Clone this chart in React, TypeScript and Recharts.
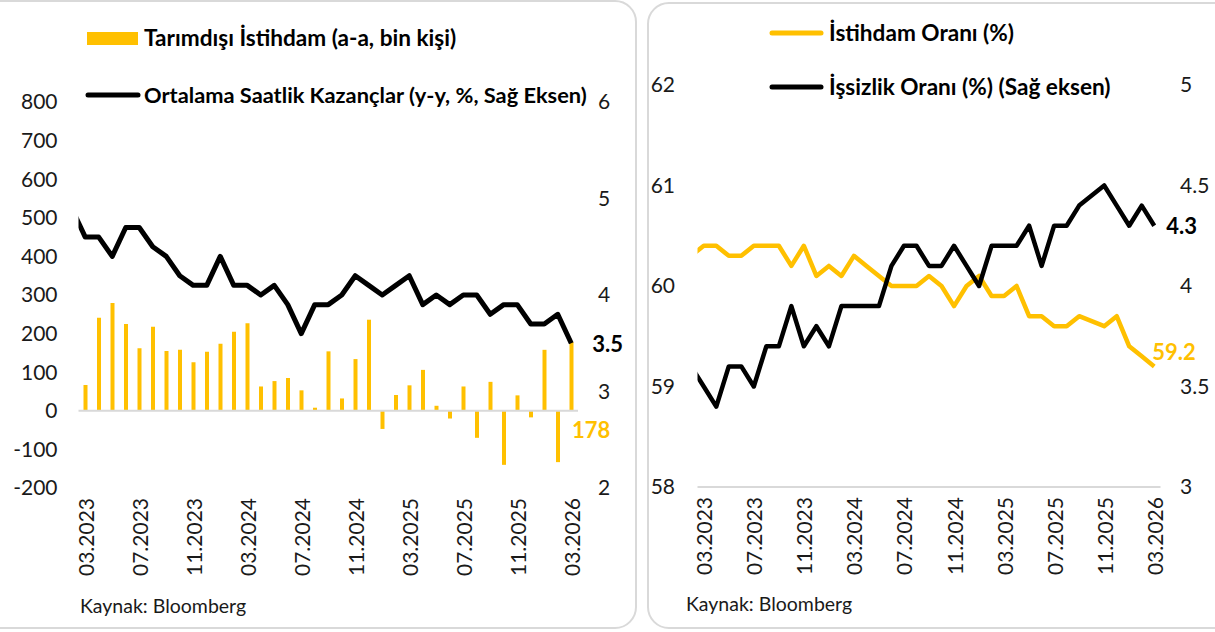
import React from "react";
import {
  ComposedChart,
  Bar,
  Line,
  XAxis,
  YAxis,
  ReferenceLine,
  LabelList,
} from "recharts";

// months incl. one clipped point before the visible range (02.2023)
const months = [
  "02.2023", "03.2023", "04.2023", "05.2023", "06.2023", "07.2023", "08.2023", "09.2023",
  "10.2023", "11.2023", "12.2023", "01.2024", "02.2024", "03.2024", "04.2024", "05.2024",
  "06.2024", "07.2024", "08.2024", "09.2024", "10.2024", "11.2024", "12.2024", "01.2025",
  "02.2025", "03.2025", "04.2025", "05.2025", "06.2025", "07.2025", "08.2025", "09.2025",
  "10.2025", "11.2025", "12.2025", "01.2026", "02.2026", "03.2026",
];

const tickMonths = ["03.2023", "07.2023", "11.2023", "03.2024", "07.2024", "11.2024", "03.2025", "07.2025", "11.2025", "03.2026"];

// Tarımdışı istihdam (a-a, bin kişi)
const payrolls = [
  null, 67, 241, 279, 225, 162, 218, 155, 158, 126, 153, 174, 205, 227, 63, 77, 85, 53, 8,
  154, 32, 134, 236, -47, 41, 66, 106, 13, -20, 63, -70, 75, -140, 40, -17, 158, -133, 178,
];

// Ortalama saatlik kazançlar (y-y, %)
const earnings = [
  4.9, 4.6, 4.6, 4.4, 4.7, 4.7, 4.5, 4.4, 4.2, 4.1, 4.1, 4.4, 4.1, 4.1, 4.0, 4.1, 3.9, 3.6, 3.9,
  3.9, 4.0, 4.2, 4.1, 4.0, 4.1, 4.2, 3.9, 4.0, 3.9, 4.0, 4.0, 3.8, 3.9, 3.9, 3.7, 3.7, 3.8, 3.5,
];

// İstihdam oranı (%)
const empRate = [
  60.3, 60.4, 60.4, 60.3, 60.3, 60.4, 60.4, 60.4, 60.2, 60.4, 60.1, 60.2, 60.1, 60.3, 60.2, 60.1,
  60.0, 60.0, 60.0, 60.1, 60.0, 59.8, 60.0, 60.1, 59.9, 59.9, 60.0, 59.7, 59.7, 59.6, 59.6, 59.7,
  null, 59.6, 59.7, 59.4, 59.3, 59.2,
];

// İşsizlik oranı (%)
const unempRate = [
  3.6, 3.5, 3.4, 3.6, 3.6, 3.5, 3.7, 3.7, 3.9, 3.7, 3.8, 3.7, 3.9, 3.9, 3.9, 3.9, 4.1, 4.2, 4.2,
  4.1, 4.1, 4.2, 4.1, 4.0, 4.2, 4.2, 4.2, 4.3, 4.1, 4.3, 4.3, 4.4, null, 4.5, 4.4, 4.3, 4.4, 4.3,
];

const leftTicks = [-200, -100, 0, 100, 200, 300, 400, 500, 600, 700, 800];
const leftRightTicks = [2, 3, 4, 5, 6];
const rightLeftTicks = [58, 59, 60, 61, 62];
const rightRightTicks = [3, 3.5, 4, 4.5, 5];

const YELLOW = "#FFC000";
const FONT = "Lato, 'Open Sans', sans-serif";
const TEXT = "#1a1a1a";

const leftData = months.map((m, i) => ({
  i: i - 1,
  month: m,
  payroll: payrolls[i],
  earnings: earnings[i],
}));

const rightData = months.map((m, i) => ({
  i: i - 1,
  month: m,
  emp: empRate[i],
  unemp: unempRate[i],
}));

const xTicks = tickMonths.map((m) => months.indexOf(m) - 1);
const last = months.length - 1;

function MonthTick(props: any) {
  const { x, y, payload } = props;
  return (
    <text
      x={x}
      y={y}
      transform={`rotate(-90 ${x} ${y})`}
      textAnchor="end"
      dominantBaseline="central"
      fontSize={21}
      fontFamily={FONT}
      fill={TEXT}
    >
      {months[payload.value + 1]}
    </text>
  );
}

const axisTick = { fontSize: 21, fontFamily: FONT, fill: TEXT };

function Panel({ left, top, width, height }: any) {
  return (
    <div
      style={{
        position: "absolute",
        left,
        top,
        width,
        height,
        border: "2px solid #d9d9d9",
        borderRadius: 22,
        boxSizing: "border-box",
      }}
    />
  );
}

function LegendLine({ x1, x2, y, color }: any) {
  return (
    <svg style={{ position: "absolute", left: 0, top: 0 }} width={1215} height={632}>
      <line x1={x1} x2={x2} y1={y} y2={y} stroke={color} strokeWidth={5} strokeLinecap="round" />
    </svg>
  );
}

function LegendText({ x, y, size = 22.6, children }: any) {
  return (
    <div
      style={{
        position: "absolute",
        left: x,
        top: y - 14,
        height: 28,
        lineHeight: "28px",
        fontFamily: FONT,
        fontWeight: 700,
        fontSize: size,
        color: "#000",
        whiteSpace: "nowrap",
      }}
    >
      {children}
    </div>
  );
}

function Source({ x, y }: any) {
  return (
    <div
      style={{
        position: "absolute",
        left: x,
        top: y - 12,
        lineHeight: "24px",
        fontFamily: FONT,
        fontSize: 19.5,
        color: TEXT,
      }}
    >
      Kaynak: Bloomberg
    </div>
  );
}

function valueLabel(dx: number, dy: number, color: string) {
  return (p: any) =>
    p.index === last ? (
      <text
        x={p.x + dx}
        y={p.y + dy}
        textAnchor="start"
        dominantBaseline="central"
        fontSize={22}
        fontWeight={700}
        fontFamily={FONT}
        fill={color}
      >
        {Number(p.value).toFixed(1)}
      </text>
    ) : null;
}

export default function App() {
  return (
    <div
      style={{
        position: "absolute",
        left: 0,
        top: 0,
        width: 1215,
        height: 632,
        background: "#fff",
        overflow: "hidden",
      }}
    >
      <Panel left={-30} top={0} width={667} height={629} />
      <Panel left={647} top={2} width={600} height={627} />

      <div style={{ position: "absolute", left: 0, top: 0 }}>
        <ComposedChart
          width={637}
          height={632}
          data={leftData}
          margin={{ top: 102, right: 0, bottom: 0, left: 0 }}
        >
          <XAxis
            type="number"
            dataKey="i"
            domain={[-0.5, 36.5]}
            allowDataOverflow
            ticks={xTicks}
            interval={0}
            tick={<MonthTick />}
            tickSize={0}
            tickMargin={10}
            axisLine={false}
            height={144}
          />
          <YAxis
            yAxisId="l"
            domain={[-200, 800]}
            ticks={leftTicks}
            interval={0}
            width={78.5}
            tickSize={0}
            tickMargin={21}
            axisLine={false}
            tick={axisTick}
          />
          <YAxis
            yAxisId="r"
            orientation="right"
            domain={[2, 6]}
            ticks={leftRightTicks}
            interval={0}
            width={59}
            tickSize={0}
            tickMargin={20}
            axisLine={false}
            tick={axisTick}
          />
          <ReferenceLine
            yAxisId="l"
            y={0}
            stroke="#d9d9d9"
            strokeWidth={2}
            label={(p: any) => {
              const vb = p.viewBox || {};
              return (
                <text
                  x={vb.x + vb.width - 6}
                  y={vb.y + 19}
                  textAnchor="start"
                  dominantBaseline="central"
                  fontSize={22}
                  fontWeight={700}
                  fontFamily={FONT}
                  fill={YELLOW}
                >
                  {payrolls[last]}
                </text>
              );
            }}
          />
          <Bar yAxisId="l" dataKey="payroll" fill={YELLOW} barSize={4} isAnimationActive={false} />
          <Line
            yAxisId="r"
            dataKey="earnings"
            stroke="#000"
            strokeWidth={5}
            strokeLinejoin="round"
            dot={false}
            isAnimationActive={false}
          >
            <LabelList dataKey="earnings" content={valueLabel(21, 0, "#000")} />
          </Line>
        </ComposedChart>
      </div>

      <div style={{ position: "absolute", left: 640, top: 0 }}>
        <ComposedChart
          width={575}
          height={632}
          data={rightData}
          margin={{ top: 85, right: 0, bottom: 0, left: 0 }}
        >
          <XAxis
            type="number"
            dataKey="i"
            domain={[-0.5, 36.5]}
            allowDataOverflow
            ticks={xTicks}
            interval={0}
            tick={<MonthTick />}
            tickSize={0}
            tickMargin={10}
            axisLine={{ stroke: "#d9d9d9", strokeWidth: 2 }}
            height={145}
          />
          <YAxis
            yAxisId="l"
            domain={[58, 62]}
            ticks={rightLeftTicks}
            interval={0}
            width={57.5}
            tickSize={0}
            tickMargin={22.5}
            axisLine={false}
            tick={axisTick}
          />
          <YAxis
            yAxisId="r"
            orientation="right"
            domain={[3, 5]}
            ticks={rightRightTicks}
            interval={0}
            width={54.5}
            tickSize={0}
            tickMargin={19.5}
            axisLine={false}
            tick={axisTick}
          />
          <Line
            yAxisId="l"
            dataKey="emp"
            stroke={YELLOW}
            strokeWidth={4.5}
            strokeLinejoin="round"
            dot={false}
            connectNulls
            isAnimationActive={false}
          >
            <LabelList dataKey="emp" content={valueLabel(-2, -15, YELLOW)} />
          </Line>
          <Line
            yAxisId="r"
            dataKey="unemp"
            stroke="#000"
            strokeWidth={4.5}
            strokeLinejoin="round"
            dot={false}
            connectNulls
            isAnimationActive={false}
          >
            <LabelList dataKey="unemp" content={valueLabel(12, 0, "#000")} />
          </Line>
        </ComposedChart>
      </div>

      {/* legends */}
      <div
        style={{ position: "absolute", left: 87, top: 32, width: 51, height: 13, background: YELLOW }}
      />
      <LegendText x={144} y={38}>Tarımdışı İstihdam (a-a, bin kişi)</LegendText>
      <LegendLine x1={88} x2={138} y={95} color="#000" />
      <LegendText x={144} y={95} size={21.8}>Ortalama Saatlik Kazançlar (y-y, %, Sağ Eksen)</LegendText>

      <LegendLine x1={772} x2={821} y={33} color={YELLOW} />
      <LegendText x={829} y={33}>İstihdam Oranı (%)</LegendText>
      <LegendLine x1={772} x2={821} y={87} color="#000" />
      <LegendText x={829} y={87}>İşsizlik Oranı (%) (Sağ eksen)</LegendText>

      <Source x={80} y={606} />
      <Source x={686} y={604} />
    </div>
  );
}
